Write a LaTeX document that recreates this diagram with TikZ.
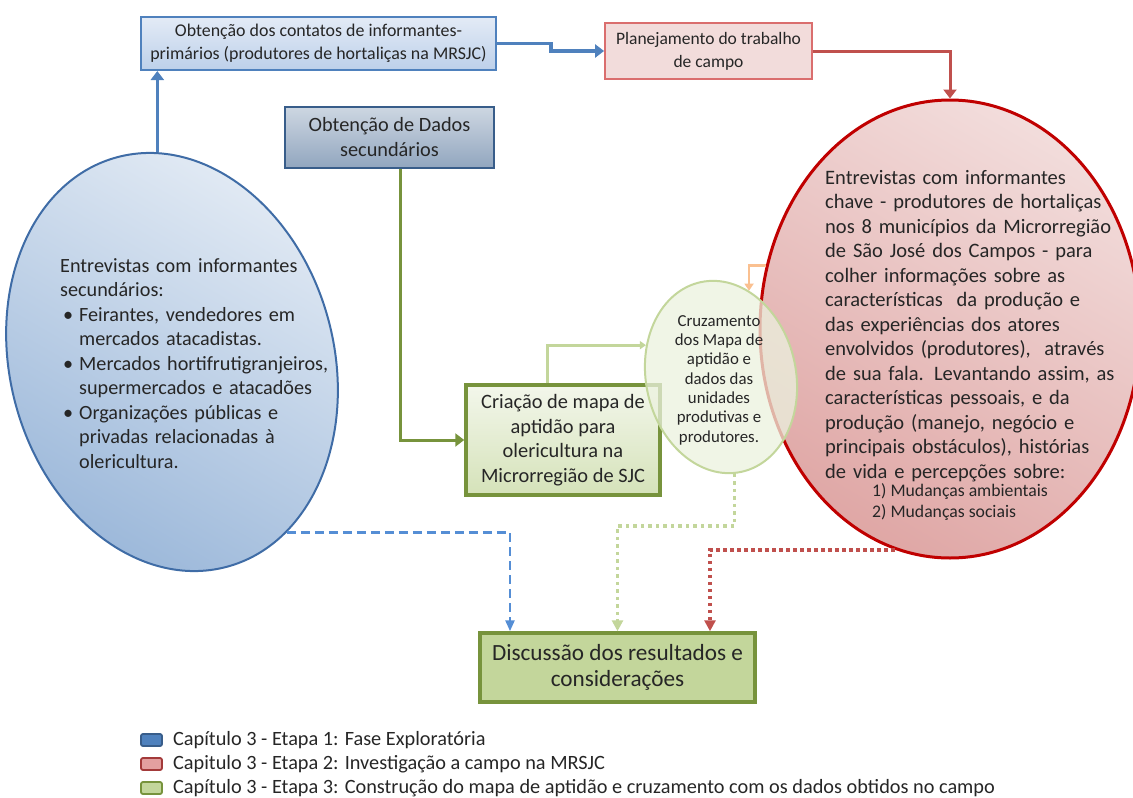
\documentclass[tikz,border=0pt]{standalone}
\usepackage{fontspec}
\setmainfont{Carlito}
\usetikzlibrary{positioning,shapes.geometric,arrows.meta}

\definecolor{bluedark}{HTML}{385D8A}
\definecolor{blueline}{HTML}{4F81BD}
\definecolor{bluedash}{HTML}{558ED5}
\definecolor{blueedge}{HTML}{3F6CA6}
\definecolor{bluetop}{HTML}{E3EBF6}
\definecolor{bluebot}{HTML}{BDD0EA}
\definecolor{redline}{HTML}{C0504D}
\definecolor{reddark}{HTML}{C00000}
\definecolor{redbox}{HTML}{DA6E6E}
\definecolor{pinkbox}{HTML}{F2DCDB}
\definecolor{greendark}{HTML}{77933C}
\definecolor{greenlight}{HTML}{C3D69B}
\definecolor{greenpale}{HTML}{EBF1DE}
\definecolor{orangelight}{HTML}{FAC090}
\definecolor{legred}{HTML}{E3A0A0}
\definecolor{legrededge}{HTML}{A33A3A}
\definecolor{inktext}{HTML}{262626}

\newcommand{\fs}[2]{\fontsize{#1}{#2}\selectfont}

\begin{document}
\begin{tikzpicture}
  [x=1pt, y=-1pt, inner sep=0pt, text=inktext,
   stepbox/.style={rectangle, align=center},
   blob/.style={ellipse, inner sep=0pt},
   flow/.style={line width=3.5pt, -{Triangle[length=9pt, width=13pt]}},
   legkey/.style={rectangle, rounded corners=2pt, line width=1.8pt, minimum width=21pt, minimum height=12pt},
   legtext/.style={anchor=west, font=\fs{20.3}{24}}]

  \useasboundingbox (0,0) rectangle (1133,798);

  % etapa 1
  \node[stepbox, draw=blueline, line width=2pt, top color=bluetop, bottom color=bluebot,
        minimum width=355pt, minimum height=53pt, font=\fs{17.9}{23}]
        (contatos) at (318.5,43.5) {Obtenção dos contatos de informantes-\\primários (produtores de hortaliças na MRSJC)};
  \node[stepbox, draw=bluedark, line width=2pt, top color=bluedark!25, bottom color=bluedark!55,
        minimum width=209pt, minimum height=61pt, font=\fs{20.3}{25}]
        (secundarios) at (389.5,137.5) {Obtenção de Dados\\secundários};
  \node[blob, rotate=15, draw=blueedge, line width=2pt, top color=blueline!15, bottom color=blueline!58,
        shading angle=-30, minimum width=324pt, minimum height=424pt] (exploratoria) at (172,362) {};
  \node[anchor=north west, text width=300pt, align=left, font=\fs{20.2}{24.5}] (exploratoriatxt) at (60,258)
    {Entrevistas com informantes\\
     secundários:\\
     \hspace*{3pt}\makebox[16pt][l]{\textbullet}Feirantes, vendedores em\\
     \hspace*{19pt}mercados atacadistas.\\
     \hspace*{3pt}\makebox[16pt][l]{\textbullet}Mercados hortifrutigranjeiros,\\
     \hspace*{19pt}supermercados e atacadões\\
     \hspace*{3pt}\makebox[16pt][l]{\textbullet}Organizações públicas e\\
     \hspace*{19pt}privadas relacionadas à\\
     \hspace*{19pt}olericultura.};

  % etapa 2
  \node[stepbox, draw=redbox, line width=1.8pt, fill=pinkbox,
        minimum width=207pt, minimum height=56pt, font=\fs{17.5}{23}]
        (planejamento) at (708.5,51) {Planejamento do trabalho\\de campo};
  \node[blob, draw=reddark, line width=3pt, top color=pinkbox, bottom color=redline!50,
        shading angle=-30, minimum width=380pt, minimum height=458pt] (campo) at (950,329) {};
  \node[anchor=north west, text width=320pt, align=left, font=\fs{20.5}{24.5}] (campotxt) at (825,170)
    {Entrevistas com informantes\\
     chave - produtores de hortaliças\\
     nos 8 municípios da Microrregião\\
     de São José dos Campos - para\\
     colher informações sobre as\\
     características~ da produção e\\
     das experiências dos atores\\
     envolvidos (produtores),~ através\\
     de sua fala. Levantando assim, as\\
     características pessoais, e da\\
     produção (manejo, negócio e\\
     principais obstáculos), histórias\\
     de vida e percepções sobre:};
  \node[anchor=north west, align=left, font=\fs{17.7}{21.5}] (campolista) at ([xshift=47pt, yshift=-1pt]campotxt.south west)
    {1) Mudanças ambientais\\2) Mudanças sociais};

  % etapa 3
  \node[stepbox, draw=greendark, line width=3.5pt, top color=greenpale!60, bottom color=greenlight!70,
        minimum width=194pt, minimum height=110pt, font=\fs{20.4}{24.5}]
        (mapa) at (563,440) {Criação de mapa de\\aptidão para\\olericultura na\\Microrregião de SJC};
  \node[blob, rotate=12, draw=greenlight, line width=2pt, fill=greenpale, fill opacity=0.75,
        minimum width=150pt, minimum height=194pt] (cruzamento) at (721,377) {};
  \node[align=center, font=\fs{16.8}{19.3}] (cruzamentotxt) at (719,380)
    {Cruzamento\\dos Mapa de\\aptidão e\\dados das\\unidades\\produtivas e\\produtores.};
  \node[stepbox, draw=greendark, line width=3.5pt, fill=greenlight,
        minimum width=275pt, minimum height=69pt, font=\fs{23.2}{26}]
        (discussao) at (617.5,667.5) {Discussão dos resultados e\\considerações};

  % ligacoes
  \draw[flow, blueline] (exploratoria.79) -- (exploratoria.79 |- contatos.south);
  \draw[flow, blueline] (contatos.east) -- ++(54,0) |- (planejamento.west);
  \draw[flow, redline, line width=3pt] (planejamento.east) -| (campo.north);
  \draw[flow, greendark, line width=3pt] ([xshift=10.5pt]secundarios.south) |- (mapa.west);
  \draw[greenlight, line width=3pt, -{Triangle[length=6pt, width=8pt]}] ([xshift=-16pt]mapa.north) |- (cruzamento.145);
  \draw[orangelight, line width=2.5pt, -{Triangle[length=7pt, width=9pt]}] (campo.161) -| (cruzamento.60);
  \draw[bluedash, line width=2.5pt, dash pattern=on 9pt off 5pt, -{Triangle[length=11pt, width=9pt]}]
    (exploratoria.-71) -| ([xshift=-107.5pt]discussao.north);
  \draw[greenlight, line width=3.5pt, dash pattern=on 3.5pt off 4pt, -{Triangle[length=11pt, width=11pt]}]
    (cruzamento.-94) -- ++(0,52) -| (discussao.north);
  \draw[redline, line width=3.5pt, dash pattern=on 3.5pt off 3.5pt, -{Triangle[length=11pt, width=11pt]}]
    (campo.-104) -| ([xshift=92.5pt]discussao.north);

  % legenda
  \foreach \keyfill/\keyedge/\keytext [count=\i] in
    {blueline/bluedark/{Capítulo 3 - Etapa 1: Fase Exploratória},
     legred/legrededge/{Capitulo 3 - Etapa 2: Investigação a campo na MRSJC},
     greenlight/greendark/{Capítulo 3 - Etapa 3: Construção do mapa de aptidão e cruzamento com os dados obtidos no campo}}
  {
    \node[legkey, fill=\keyfill, draw=\keyedge] (key\i) at (151.5,{716+24*\i}) {};
    \node[legtext, right=10pt of key\i] (leg\i) {\keytext};
  }
\end{tikzpicture}
\end{document}
